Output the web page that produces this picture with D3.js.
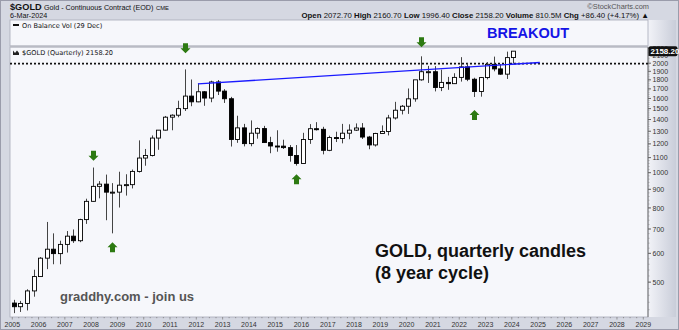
<!DOCTYPE html>
<html>
<head>
<meta charset="utf-8">
<script src="https://cdn.jsdelivr.net/npm/d3@7"></script>
<style>
  body { margin: 0; background: #d5d8e2; }
  svg { display: block; }
</style>
</head>
<body>
<script>
// quarterly candles, $GOLD continuous contract
const quarters = [
  "2005Q1","2005Q2","2005Q3","2005Q4","2006Q1","2006Q2","2006Q3","2006Q4",
  "2007Q1","2007Q2","2007Q3","2007Q4","2008Q1","2008Q2","2008Q3","2008Q4",
  "2009Q1","2009Q2","2009Q3","2009Q4","2010Q1","2010Q2","2010Q3","2010Q4",
  "2011Q1","2011Q2","2011Q3","2011Q4","2012Q1","2012Q2","2012Q3","2012Q4",
  "2013Q1","2013Q2","2013Q3","2013Q4","2014Q1","2014Q2","2014Q3","2014Q4",
  "2015Q1","2015Q2","2015Q3","2015Q4","2016Q1","2016Q2","2016Q3","2016Q4",
  "2017Q1","2017Q2","2017Q3","2017Q4","2018Q1","2018Q2","2018Q3","2018Q4",
  "2019Q1","2019Q2","2019Q3","2019Q4","2020Q1","2020Q2","2020Q3","2020Q4",
  "2021Q1","2021Q2","2021Q3","2021Q4","2022Q1","2022Q2","2022Q3","2022Q4",
  "2023Q1","2023Q2","2023Q3","2023Q4","2024Q1"
]
const open = [
  438, 428, 437, 473, 518, 582, 616, 599, 635, 669, 650, 743, 834, 917, 930, 884,
  884, 924, 927, 1008, 1097, 1115, 1245, 1309, 1421, 1439, 1500, 1624, 1566, 1669, 1604, 1776,
  1676, 1597, 1234, 1328, 1202, 1284, 1322, 1210, 1184, 1183, 1172, 1115, 1060, 1234, 1321, 1316,
  1152, 1249, 1242, 1284, 1309, 1327, 1253, 1192, 1282, 1298, 1414, 1485, 1523, 1596, 1800, 1895,
  1895, 1715, 1771, 1757, 1828, 1954, 1807, 1672, 1826, 1986, 1929, 1866, 2072.7
]
const high = [
  447, 444, 478, 541, 586, 732, 681, 650, 691, 698, 747, 848, 1033, 948, 988, 936,
  1006, 990, 1020, 1227, 1162, 1266, 1310, 1432, 1447, 1577, 1923, 1804, 1760, 1677, 1790, 1798,
  1697, 1616, 1434, 1362, 1392, 1332, 1345, 1255, 1308, 1232, 1191, 1191, 1287, 1360, 1377, 1337,
  1264, 1296, 1362, 1358, 1366, 1369, 1262, 1287, 1349, 1442, 1566, 1535, 1704, 1796, 2089, 1966,
  1963, 1919, 1834, 1877, 2078, 1998, 1824, 1833, 2014, 2085, 1987, 2152, 2160.7
]
const low = [
  411, 414, 418, 456, 519, 543, 560, 560, 603, 641, 644, 723, 832, 850, 740, 681,
  802, 865, 905, 1001, 1045, 1108, 1156, 1306, 1308, 1420, 1478, 1523, 1562, 1527, 1562, 1635,
  1555, 1180, 1208, 1181, 1182, 1240, 1208, 1131, 1142, 1162, 1072, 1046, 1062, 1200, 1306, 1123,
  1146, 1214, 1204, 1236, 1302, 1238, 1160, 1180, 1281, 1266, 1400, 1446, 1451, 1567, 1790, 1765,
  1673, 1676, 1690, 1753, 1780, 1785, 1615, 1618, 1805, 1900, 1858, 1810, 1996.4
]
const close = [
  428, 437, 473, 518, 582, 616, 599, 635, 669, 650, 743, 834, 917, 930, 884, 884,
  924, 927, 1008, 1097, 1115, 1245, 1309, 1421, 1439, 1500, 1624, 1566, 1669, 1604, 1776, 1676,
  1597, 1234, 1328, 1202, 1284, 1322, 1210, 1184, 1183, 1172, 1115, 1060, 1234, 1321, 1316, 1152,
  1249, 1242, 1284, 1309, 1327, 1253, 1192, 1282, 1298, 1414, 1485, 1523, 1596, 1800, 1895, 1895,
  1715, 1771, 1757, 1828, 1954, 1807, 1672, 1826, 1986, 1929, 1866, 2072, 2158.2
]

const priceTicks = [500, 600, 700, 800, 900, 1000, 1100, 1200, 1300, 1400, 1500, 1600, 1700, 1800, 1900, 2000, 2100, 2200]
const yearTicks = d3.range(2005, 2030)

// annotations
const arrowQuarter = ["2008Q1", "2011Q3", "2020Q3", "2008Q4", "2015Q4", "2022Q3"]
const arrowPrice = [1113, 2200, 2285, 624, 959, 1441]
const arrowDir = ["down", "down", "down", "up", "up", "up"]
const trendQuarter = ["2012Q1", "2025Q1"]
const trendPrice = [1755, 2008]
const supportLevel = 1995
const lastClose = 2158.20

const W = 679, H = 330
const plotL = 10, plotR = 648, obvT = 20, obvB = 46, mainT = 47, mainB = 317

const qDate = q => new Date(+q.slice(0, 4), (+q.slice(5) - 1) * 3, 24)

const candles = quarters.map((q, i) => ({
  q, date: qDate(q), o: open[i], h: high[i], l: low[i], c: close[i]
}))

const x = d3.scaleTime()
  .domain([new Date(2005, 0, 1), new Date(2029, 0, 1)])
  .range([12.3, 643.3])

const y = d3.scaleLog()
  .domain([401, 2216])
  .range([mainB, mainT])

const svg = d3.select('body')
  .append('svg')
  .attr('width', W)
  .attr('height', H)
  .style('font-family', '"Liberation Sans", Arial, sans-serif')

const defs = svg.append('defs')
const grad = defs.append('linearGradient').attr('id', 'axisGrad')
grad.append('stop').attr('offset', '0%').attr('stop-color', '#f2f3f8')
grad.append('stop').attr('offset', '100%').attr('stop-color', '#c9cdd9')
defs.append('clipPath').attr('id', 'mainClip')
  .append('rect')
  .attr('x', plotL).attr('y', mainT)
  .attr('width', plotR - plotL).attr('height', mainB - mainT)

// outer frame
svg.append('rect')
  .attr('x', 0.5).attr('y', 0.5)
  .attr('width', W - 1).attr('height', H - 1)
  .attr('fill', '#d5d8e2')
  .attr('stroke', '#9a9cab')

// right axis background
svg.append('rect')
  .attr('x', plotR).attr('y', obvT)
  .attr('width', W - 3 - plotR).attr('height', mainB - obvT)
  .attr('fill', 'url(#axisGrad)')

// panels
svg.append('rect')
  .attr('x', plotL).attr('y', obvT)
  .attr('width', plotR - plotL).attr('height', obvB - obvT)
  .attr('fill', '#f6f7fb')
  .attr('stroke', '#a9abb8')
  .attr('stroke-width', 0.8)

svg.append('rect')
  .attr('x', plotL).attr('y', mainT)
  .attr('width', plotR - plotL).attr('height', mainB - mainT)
  .attr('fill', '#f6f7fb')
  .attr('stroke', '#a9abb8')
  .attr('stroke-width', 0.8)

svg.append('line')
  .attr('x1', plotL).attr('x2', plotR)
  .attr('y1', obvB + 0.5).attr('y2', obvB + 0.5)
  .attr('stroke', '#b9bbc4')
  .attr('stroke-width', 2)

// header text
const head = svg.append('g').attr('fill', '#111')
head.append('text')
  .attr('x', 10).attr('y', 9.5)
  .attr('font-size', 9.2).attr('font-weight', 'bold')
  .text('$GOLD')
head.append('text')
  .attr('x', 44).attr('y', 9.5)
  .attr('font-size', 7.2)
  .text('Gold - Continuous Contract (EOD)')
head.append('text')
  .attr('x', 156).attr('y', 9.5)
  .attr('font-size', 5.8)
  .text('CME')
head.append('text')
  .attr('x', 10).attr('y', 18)
  .attr('font-size', 7.2)
  .text('6-Mar-2024')

const quote = head.append('text')
  .attr('x', 649).attr('y', 18)
  .attr('text-anchor', 'end')
  .attr('font-size', 7.8)
const quoteParts = [
  ['Open', ' 2072.70 '], ['High', ' 2160.70 '], ['Low', ' 1996.40 '],
  ['Close', ' 2158.20 '], ['Volume', ' 810.5M '], ['Chg', ' +86.40 (+4.17%) \u25B2']
]
quoteParts.forEach(p => {
  quote.append('tspan').attr('font-weight', 'bold').text(p[0])
  quote.append('tspan').text(p[1])
})

head.append('text')
  .attr('x', 649).attr('y', 9)
  .attr('text-anchor', 'end')
  .attr('font-size', 7.4)
  .attr('fill', '#555')
  .text('\u00A9StockCharts.com')

// OBV panel label
svg.append('rect')
  .attr('x', 13).attr('y', 24)
  .attr('width', 6).attr('height', 2)
  .attr('fill', '#111')
svg.append('text')
  .attr('x', 22).attr('y', 27.5)
  .attr('font-family', '"DejaVu Sans", Verdana, sans-serif')
  .attr('font-size', 6.6)
  .attr('fill', '#111')
  .text('On Balance Vol (29 Dec)')

// main panel label
svg.append('path')
  .attr('d', 'M13,55V50.5L15,53L17,50.5L19,53V55Z')
  .attr('fill', '#222')
svg.append('text')
  .attr('x', 22).attr('y', 55)
  .attr('font-family', '"DejaVu Sans", Verdana, sans-serif')
  .attr('font-size', 6.6)
  .attr('fill', '#111')
  .text('$GOLD (Quarterly) 2158.20')

// right axis
const axisG = svg.append('g')
  .attr('transform', `translate(${plotR},0)`)
axisG.append('line')
  .attr('y1', mainT).attr('y2', mainB)
  .attr('stroke', '#777')
const minor = d3.range(420, 2200, 20)
axisG.selectAll('.minor')
  .data(minor)
  .enter()
  .append('line')
  .attr('class', 'minor')
  .attr('x2', 1.5)
  .attr('y1', d => y(d)).attr('y2', d => y(d))
  .attr('stroke', '#888')
  .attr('stroke-width', 0.6)
axisG.selectAll('.tick')
  .data(priceTicks)
  .enter()
  .append('line')
  .attr('class', 'tick')
  .attr('x2', 3)
  .attr('y1', d => y(d)).attr('y2', d => y(d))
  .attr('stroke', '#666')
axisG.selectAll('.lbl')
  .data(priceTicks)
  .enter()
  .append('text')
  .attr('class', 'lbl')
  .attr('x', 4.5)
  .attr('y', d => y(d) + 2.6)
  .attr('font-size', 7)
  .attr('fill', '#333')
  .text(d => d)

// bottom axis
const xAxisG = svg.append('g')
xAxisG.selectAll('.xt')
  .data(d3.timeMonth.every(3).range(new Date(2005, 0, 1), new Date(2029, 1, 1)))
  .enter()
  .append('line')
  .attr('x1', d => x(d)).attr('x2', d => x(d))
  .attr('y1', mainB).attr('y2', d => d.getMonth() === 0 ? mainB + 2.5 : mainB + 1.2)
  .attr('stroke', '#777')
  .attr('stroke-width', 0.7)
xAxisG.selectAll('.xl')
  .data(yearTicks)
  .enter()
  .append('text')
  .attr('x', d => x(new Date(d, 0, 1)))
  .attr('y', 326.5)
  .attr('text-anchor', 'middle')
  .attr('font-size', 7)
  .attr('fill', '#333')
  .text(d => d)

const main = svg.append('g').attr('clip-path', 'url(#mainClip)')

// support level (dotted)
main.append('line')
  .attr('x1', plotL).attr('x2', plotR)
  .attr('y1', y(supportLevel)).attr('y2', y(supportLevel))
  .attr('stroke', '#111')
  .attr('stroke-width', 1.6)
  .attr('stroke-dasharray', '2,2')

// candles
const cw = 4
const cg = main.append('g')
  .selectAll('g')
  .data(candles)
  .enter()
  .append('g')
cg.append('line')
  .attr('x1', d => Math.round(x(d.date)) + 0.5)
  .attr('x2', d => Math.round(x(d.date)) + 0.5)
  .attr('y1', d => y(d.h)).attr('y2', d => y(d.l))
  .attr('stroke', '#444')
  .attr('stroke-width', 1)
cg.append('rect')
  .attr('x', d => Math.round(x(d.date)) + 0.5 - cw / 2)
  .attr('y', d => y(Math.max(d.o, d.c)))
  .attr('width', cw)
  .attr('height', d => Math.max(1, Math.abs(y(d.o) - y(d.c))))
  .attr('fill', d => d.c >= d.o ? '#fff' : '#000')
  .attr('stroke', '#000')
  .attr('stroke-width', 0.9)

// trend line
main.append('line')
  .attr('x1', x(qDate(trendQuarter[0]))).attr('y1', y(trendPrice[0]))
  .attr('x2', x(qDate(trendQuarter[1]))).attr('y2', y(trendPrice[1]))
  .attr('stroke', '#1a1aff')
  .attr('stroke-width', 1.4)

// arrows
const arrows = arrowQuarter.map((q, i) => ({ date: qDate(q), p: arrowPrice[i], dir: arrowDir[i] }))
svg.append('g')
  .selectAll('path')
  .data(arrows)
  .enter()
  .append('path')
  .attr('transform', d => `translate(${Math.round(x(d.date)) + 0.5},${y(d.p)})${d.dir === 'up' ? ' rotate(180)' : ''}`)
  .attr('d', 'M-2.5,-5H2.5V0H5L0,5L-5,0H-2.5Z')
  .attr('fill', '#2d7a12')

// last price tag
svg.append('rect')
  .attr('x', plotR + 0.5).attr('y', y(lastClose) - 5)
  .attr('width', W - plotR - 2).attr('height', 10)
  .attr('rx', 2)
  .attr('fill', '#111')
svg.append('text')
  .attr('x', plotR + 2.5).attr('y', y(lastClose) + 3)
  .attr('font-size', 8)
  .attr('font-weight', 'bold')
  .attr('fill', '#fff')
  .text(lastClose.toFixed(2))

// annotations
svg.append('text')
  .attr('x', 487).attr('y', 37.5)
  .attr('font-size', 14.5).attr('font-weight', 'bold')
  .attr('fill', '#1414e6')
  .text('BREAKOUT')
svg.append('text')
  .attr('x', 60).attr('y', 301)
  .attr('font-size', 13).attr('font-weight', 'bold')
  .attr('fill', '#555')
  .text('graddhy.com - join us')
svg.append('text')
  .attr('x', 375).attr('y', 256.5)
  .attr('font-size', 18).attr('font-weight', 'bold')
  .attr('fill', '#111')
  .text('GOLD, quarterly candles')
svg.append('text')
  .attr('x', 375).attr('y', 278.5)
  .attr('font-size', 18).attr('font-weight', 'bold')
  .attr('fill', '#111')
  .text('(8 year cycle)')
</script>
</body>
</html>
